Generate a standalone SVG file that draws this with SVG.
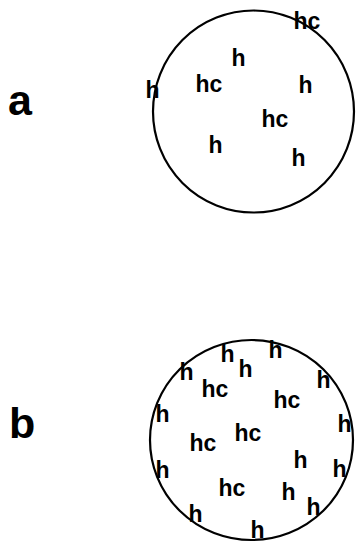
<svg xmlns="http://www.w3.org/2000/svg" width="356" height="542" viewBox="0 0 356 542">
<style>
.c{fill:none;stroke:#000;stroke-width:2.2}
.t{font-family:"Liberation Sans",Arial,sans-serif;font-weight:bold;font-size:23px;fill:#000}
.L{font-family:"Liberation Sans",Arial,sans-serif;font-weight:bold;font-size:43px;fill:#000}
</style>
<rect width="356" height="542" fill="#fff"/>
<g id="panel-a">
<text class="L" x="8" y="115">a</text>
<ellipse class="c" cx="253.5" cy="111.5" rx="100.5" ry="101"/>
<text class="t" x="145.5" y="98">h</text>
<text class="t" x="195.5" y="92">hc</text>
<text class="t" x="231.5" y="66">h</text>
<text class="t" x="293.5" y="29">hc</text>
<text class="t" x="298.5" y="93">h</text>
<text class="t" x="261.5" y="127">hc</text>
<text class="t" x="208.5" y="153">h</text>
<text class="t" x="291.5" y="166">h</text>
</g>
<g id="panel-b">
<text class="L" x="9" y="438">b</text>
<ellipse class="c" cx="251.5" cy="440" rx="101.5" ry="100"/>
<text class="t" x="220.5" y="362">h</text>
<text class="t" x="238.5" y="377">h</text>
<text class="t" x="179.5" y="380">h</text>
<text class="t" x="268.5" y="358">h</text>
<text class="t" x="316.5" y="388">h</text>
<text class="t" x="155.5" y="422">h</text>
<text class="t" x="337.5" y="432">h</text>
<text class="t" x="293.5" y="468">h</text>
<text class="t" x="332.5" y="477">h</text>
<text class="t" x="155.5" y="478">h</text>
<text class="t" x="281.5" y="500">h</text>
<text class="t" x="306.5" y="515">h</text>
<text class="t" x="188.5" y="522">h</text>
<text class="t" x="250.5" y="538">h</text>
<text class="t" x="201.5" y="397">hc</text>
<text class="t" x="273.5" y="408">hc</text>
<text class="t" x="234.5" y="441">hc</text>
<text class="t" x="189.5" y="451">hc</text>
<text class="t" x="218.5" y="496">hc</text>
</g>
</svg>
